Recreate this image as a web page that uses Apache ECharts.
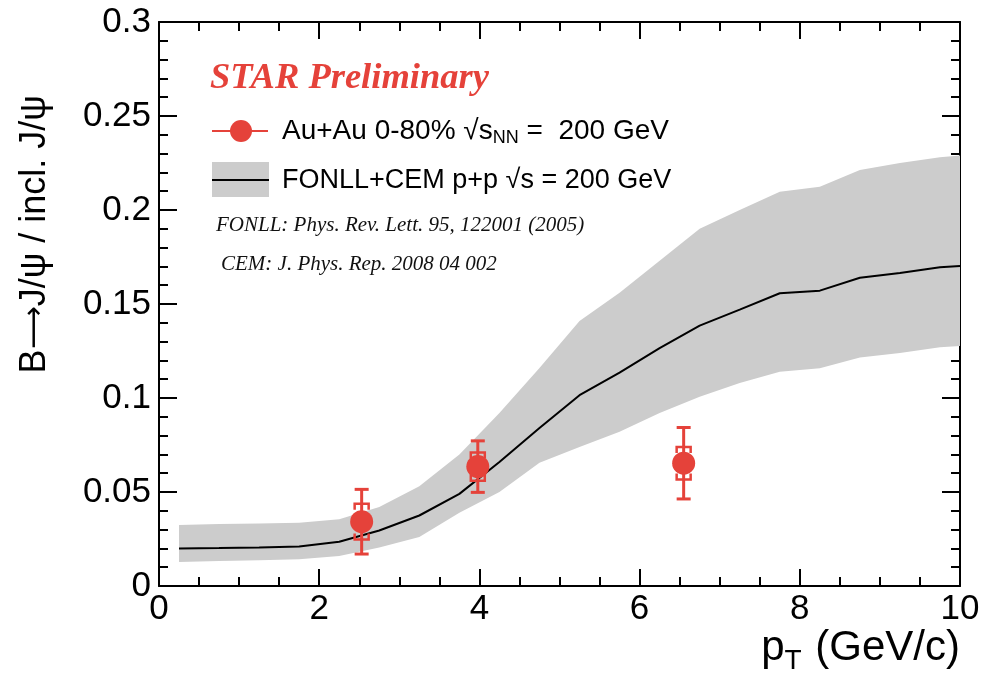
<!DOCTYPE html>
<html>
<head>
<meta charset="utf-8">
<script src="https://cdn.jsdelivr.net/npm/echarts@6/dist/echarts.min.js"></script>
<style>
  html, body { margin: 0; padding: 0; background: #fff; }
  #chart { width: 981px; height: 679px; }
</style>
</head>
<body>
<div id="chart"></div>
<script>
// FONLL+CEM prediction for the B -> J/psi fraction (p+p, 200 GeV)
const modelPt      = [0.25, 0.75, 1.25, 1.75, 2.25, 2.75, 3.25, 3.75, 4.25, 4.75, 5.25,
                      5.75, 6.25, 6.75, 7.25, 7.75, 8.25, 8.75, 9.25, 9.75, 10.0];
const modelCentral = [0.0200, 0.0202, 0.0205, 0.0210, 0.0235, 0.0295, 0.0375, 0.0490, 0.0660, 0.0840, 0.1015,
                      0.1135, 0.1265, 0.1385, 0.1470, 0.1557, 0.1571, 0.1640, 0.1665, 0.1695, 0.1702];
const modelUpper   = [0.0325, 0.0330, 0.0333, 0.0337, 0.0355, 0.0420, 0.0530, 0.0700, 0.0920, 0.1160, 0.1410,
                      0.1560, 0.1730, 0.1900, 0.2000, 0.2097, 0.2124, 0.2213, 0.2250, 0.2280, 0.2290];
const modelLower   = [0.0128, 0.0133, 0.0137, 0.0142, 0.0160, 0.0205, 0.0260, 0.0390, 0.0500, 0.0655, 0.0740,
                      0.0820, 0.0920, 0.1007, 0.1080, 0.1140, 0.1158, 0.1215, 0.1240, 0.1270, 0.1277];

// Au+Au 0-80% measurement
const dataPt    = [2.53, 3.98, 6.55];
const dataRatio = [0.0342, 0.0635, 0.0653];
const statErr   = [0.0172, 0.0137, 0.0190];
const sysErr    = [0.0095, 0.0075, 0.0086];

// Axis ticks
const xTicks = { min: 0, max: 10, step: 2 };
const yTicks = { min: 0, max: 0.3, step: 0.05 };

const RED = '#e5423a';
const BAND = '#cccccc';
const SANS = '"Liberation Sans", Arial, Helvetica, sans-serif';
const SERIF = '"Liberation Serif", "Times New Roman", serif';

const chart = echarts.init(document.getElementById('chart'), null, { renderer: 'canvas' });

const axisLine = { show: true, onZero: false, lineStyle: { color: '#000', width: 2 } };

function xAxisDef(pos, labels) {
  return {
    type: 'value', position: pos, min: xTicks.min, max: xTicks.max, interval: xTicks.step,
    axisLine: axisLine,
    axisTick: { show: true, inside: true, length: 17, lineStyle: { color: '#000', width: 2 } },
    minorTick: { show: true, splitNumber: 4, length: 9, lineStyle: { color: '#000', width: 2 } },
    axisLabel: { show: labels, fontFamily: SANS, fontSize: 35, color: '#000', margin: 6 },
    splitLine: { show: false }, minorSplitLine: { show: false }
  };
}
function yAxisDef(pos, labels) {
  return {
    type: 'value', position: pos, min: yTicks.min, max: yTicks.max, interval: yTicks.step,
    axisLine: axisLine,
    axisTick: { show: true, inside: true, length: 18, lineStyle: { color: '#000', width: 2 } },
    minorTick: { show: true, splitNumber: 5, length: 9, lineStyle: { color: '#000', width: 2 } },
    axisLabel: { show: labels, fontFamily: SANS, fontSize: 35, color: '#000', margin: 8 },
    splitLine: { show: false }, minorSplitLine: { show: false }
  };
}

const bandData = modelPt.map((x, i) => [x, modelLower[i], modelUpper[i]]);
const centralData = modelPt.map((x, i) => [x, modelCentral[i]]);
const pointData = dataPt.map((x, i) => [x, dataRatio[i], statErr[i], sysErr[i]]);

chart.setOption({
  animation: false,
  backgroundColor: '#fff',
  grid: { left: 159, top: 22, width: 801, height: 564, outerBoundsMode: 'none' },
  xAxis: [xAxisDef('bottom', true), xAxisDef('top', false)],
  yAxis: [yAxisDef('left', true), yAxisDef('right', false)],
  series: [
    {
      // uncertainty band of the model
      type: 'custom', name: 'band', z: 1, silent: true,
      data: bandData,
      renderItem: function (params, api) {
        if (params.dataIndex !== 0) return null;
        const upper = bandData.map(d => api.coord([d[0], d[2]]));
        const lower = bandData.slice().reverse().map(d => api.coord([d[0], d[1]]));
        return {
          type: 'polygon',
          shape: { points: upper.concat(lower) },
          style: { fill: BAND, stroke: null }
        };
      }
    },
    {
      type: 'line', name: 'FONLL+CEM', z: 2, silent: true,
      data: centralData, symbol: 'none', smooth: false,
      lineStyle: { color: '#000', width: 2 }
    },
    {
      // statistical and systematic uncertainties
      type: 'custom', name: 'errors', z: 3, silent: true,
      data: pointData,
      renderItem: function (params, api) {
        const x = api.value(0), y = api.value(1), st = api.value(2), sy = api.value(3);
        const c = api.coord([x, y]);
        const t = api.coord([x, y + st])[1];
        const b = api.coord([x, y - st])[1];
        const st1 = api.coord([x, y + sy])[1];
        const sb1 = api.coord([x, y - sy])[1];
        const cap = 7, bw = 7, leg = 6;
        const style = { stroke: RED, lineWidth: 3, fill: null };
        return {
          type: 'group',
          children: [
            { type: 'line', shape: { x1: c[0], y1: t, x2: c[0], y2: b }, style: style },
            { type: 'line', shape: { x1: c[0] - cap, y1: t, x2: c[0] + cap, y2: t }, style: style },
            { type: 'line', shape: { x1: c[0] - cap, y1: b, x2: c[0] + cap, y2: b }, style: style },
            { type: 'polyline', shape: { points: [[c[0] - bw, st1 + leg], [c[0] - bw, st1], [c[0] + bw, st1], [c[0] + bw, st1 + leg]] }, style: { stroke: RED, lineWidth: 2.5, fill: null } },
            { type: 'polyline', shape: { points: [[c[0] - bw, sb1 - leg], [c[0] - bw, sb1], [c[0] + bw, sb1], [c[0] + bw, sb1 - leg]] }, style: { stroke: RED, lineWidth: 2.5, fill: null } }
          ]
        };
      }
    },
    {
      type: 'scatter', name: 'Au+Au 0-80%', z: 4, silent: true,
      data: dataPt.map((x, i) => [x, dataRatio[i]]),
      symbol: 'circle', symbolSize: 23,
      itemStyle: { color: RED, opacity: 1 }
    }
  ],
  graphic: [
    {
      type: 'text', x: 35, y: 95, rotation: Math.PI / 2,
      style: {
        text: '{t|B}{a|\u27F6}{t|J/\u03C8 / incl. J/\u03C8}', align: 'right', verticalAlign: 'middle',
        rich: {
          t: { fontFamily: SANS, fontSize: 36, fill: '#000' },
          a: { fontFamily: '"DejaVu Sans", sans-serif', fontSize: 30, fill: '#000' }
        }
      }
    },
    {
      type: 'text', x: 960, y: 648,
      style: {
        text: '{p|p}{s|T}{p| (GeV/c)}', align: 'right', verticalAlign: 'middle',
        rich: {
          p: { fontFamily: SANS, fontSize: 42, fill: '#000' },
          s: { fontFamily: SANS, fontSize: 28, fill: '#000', padding: [26, 2, 0, 0] }
        }
      }
    },
    {
      type: 'text', x: 210, y: 79,
      style: { text: 'STAR Preliminary', fontFamily: SERIF, fontWeight: 'bold', fontStyle: 'italic',
               fontSize: 36.5, fill: RED, align: 'left', verticalAlign: 'middle' }
    },
    // legend: data points
    { type: 'line', shape: { x1: 212, y1: 131, x2: 268, y2: 131 }, style: { stroke: RED, lineWidth: 2 } },
    { type: 'circle', shape: { cx: 241, cy: 131, r: 11 }, style: { fill: RED } },
    {
      type: 'text', x: 282, y: 131,
      style: {
        text: '{t|Au+Au 0-80% \u221A}{t|s}{sub|NN}{t| =  200 GeV}', verticalAlign: 'middle', align: 'left',
        rich: {
          t: { fontFamily: SANS, fontSize: 28, fill: '#000' },
          sub: { fontFamily: SANS, fontSize: 18, fill: '#000', padding: [15, 0, 0, 0] }
        }
      }
    },
    // legend: model band
    { type: 'rect', shape: { x: 212, y: 162, width: 57, height: 35 }, style: { fill: BAND } },
    { type: 'line', shape: { x1: 212, y1: 180, x2: 269, y2: 180 }, style: { stroke: '#000', lineWidth: 2 } },
    {
      type: 'text', x: 282, y: 181,
      style: { text: 'FONLL+CEM p+p \u221As = 200 GeV', fontFamily: SANS, fontSize: 27, fill: '#000',
               align: 'left', verticalAlign: 'middle' }
    },
    {
      type: 'text', x: 216, y: 225,
      style: { text: 'FONLL: Phys. Rev. Lett. 95, 122001 (2005)', fontFamily: SERIF, fontStyle: 'italic',
               fontSize: 21, fill: '#111', align: 'left', verticalAlign: 'middle' }
    },
    {
      type: 'text', x: 221, y: 264,
      style: { text: 'CEM: J. Phys. Rep. 2008 04 002', fontFamily: SERIF, fontStyle: 'italic',
               fontSize: 21, fill: '#111', align: 'left', verticalAlign: 'middle' }
    }
  ]
});
</script>
</body>
</html>
